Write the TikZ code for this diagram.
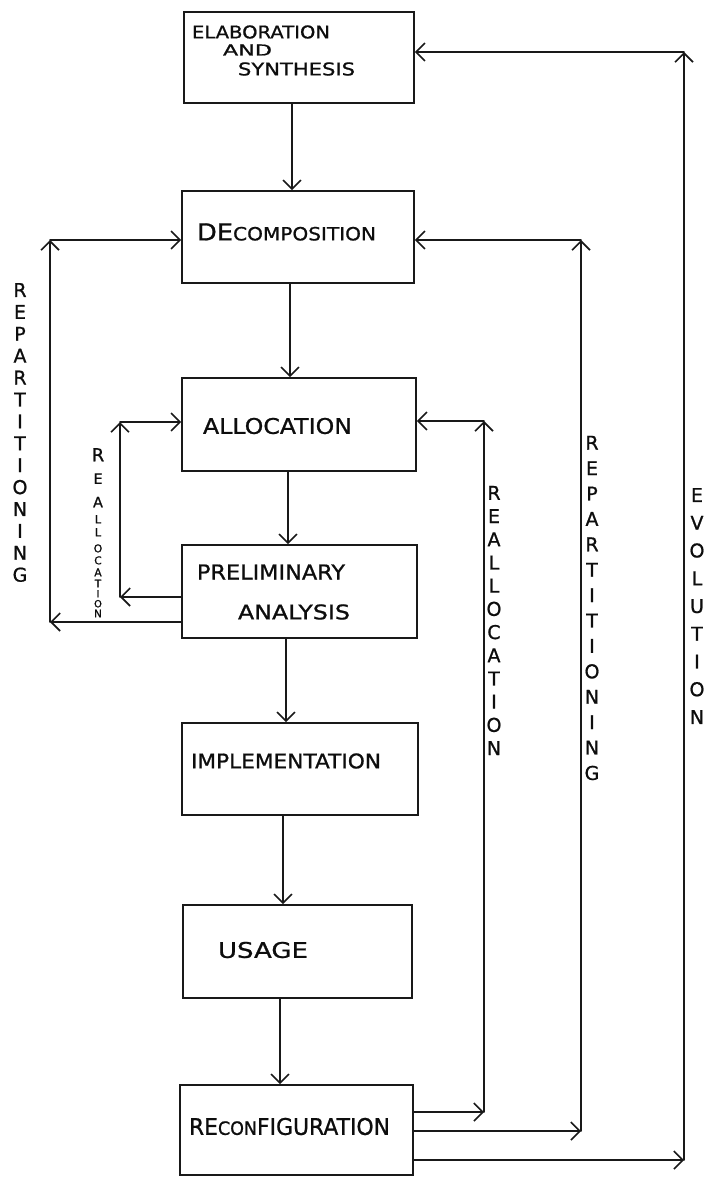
\documentclass[tikz,border=0pt]{standalone}
\usepackage{fontspec}
\setmainfont{DejaVu Sans}[FakeBold=0.9]
\usepackage{graphicx}
\usetikzlibrary{arrows.meta}
\tikzset{
  ink/.style={draw=gray!20!black, line width=1.6pt},
  stage/.style={ink, rectangle, inner sep=0pt},
  arr/.style={ink, line cap=round, -{Straight Barb[length=9pt,width=18pt,line width=1.6pt]}},
  lbl/.style={inner sep=0pt, text=gray!10!black, anchor=center},
  vlbl/.style={inner sep=0pt, text=gray!10!black, align=center},
}
\newcommand{\fitto}[3]{\resizebox{#1pt}{#2pt}{#3}}
\newcommand{\ltr}[2]{\scalebox{#1}{#2}}
\begin{document}
\begin{tikzpicture}[x=1pt,y=-1pt]
\useasboundingbox (0,0) rectangle (705,1177);
\fill[white] (0,0) rectangle (705,1177);

% stages
\node[stage, minimum width=230pt, minimum height=91pt] (elab)   at (299,57.5)   {};
\node[stage, minimum width=232pt, minimum height=92pt] (decomp) at (298,237)    {};
\node[stage, minimum width=234pt, minimum height=93pt] (alloc)  at (299,424.5)  {};
\node[stage, minimum width=235pt, minimum height=93pt] (prelim) at (299.5,591.5){};
\node[stage, minimum width=236pt, minimum height=92pt] (impl)   at (300,769)    {};
\node[stage, minimum width=229pt, minimum height=93pt] (usage)  at (297.5,951.5){};
\node[stage, minimum width=233pt, minimum height=90pt] (reconf) at (296.5,1130) {};

% stage texts
\node[lbl] (t-elab1) at (261,32)    {\fitto{138}{13}{ELABORATION}};
\node[lbl] (t-elab2) at (247.5,50)  {\fitto{49}{11}{AND}};
\node[lbl] (t-elab3) at (296.5,69)  {\fitto{117}{13}{SYNTHESIS}};
\node[lbl] (t-decomp) at (286.5,232) {\fitto{179}{17}{DE\scalebox{0.78}{COMPOSITION}}};
\node[lbl] (t-alloc) at (277.5,426) {\fitto{149}{16}{ALLOCATION}};
\node[lbl] (t-prel1) at (271,572)   {\fitto{148}{15}{PRELIMINARY}};
\node[lbl] (t-prel2) at (294,612)   {\fitto{112}{15}{ANALYSIS}};
\node[lbl] (t-impl) at (286,761)    {\fitto{190}{15}{IMPLEMENTATION}};
\node[lbl] (t-usage) at (263,950)   {\fitto{90}{16}{USAGE}};
\node[lbl] (t-reconf) at (289.5,1126.5) {\fitto{201}{17}{RE\scalebox{0.8}{CON}FIGURATION}};

% main flow
\draw[arr] ([xshift=-7pt]elab.south)    -- ([xshift=-7pt]elab.south |- decomp.north);
\draw[arr] ([xshift=-8pt]decomp.south)  -- ([xshift=-8pt]decomp.south |- alloc.north);
\draw[arr] ([xshift=-11pt]alloc.south)  -- ([xshift=-11pt]alloc.south |- prelim.north);
\draw[arr] ([xshift=-13.5pt]prelim.south) -- ([xshift=-13.5pt]prelim.south |- impl.north);
\draw[arr] ([xshift=-17pt]impl.south)   -- ([xshift=-17pt]impl.south |- usage.north);
\draw[arr] ([xshift=-17.5pt]usage.south)  -- ([xshift=-17.5pt]usage.south |- reconf.north);

% left repartitioning loop
\coordinate (lr1) at (50,622);
\coordinate (lr2) at (50,240);
\draw[arr] (prelim.west |- lr1) -- (lr1);
\draw[arr] (lr1) -- (lr2);
\draw[arr] (lr2) -- (decomp.west |- lr2);

% inner reallocation loop
\coordinate (ir1) at (120,597);
\coordinate (ir2) at (120,422);
\draw[arr] (prelim.west |- ir1) -- (ir1);
\draw[arr] (ir1) -- (ir2);
\draw[arr] (ir2) -- (alloc.west |- ir2);

% right reallocation loop
\coordinate (rr1) at (484,1112);
\coordinate (rr2) at (484,421);
\draw[arr] (reconf.east |- rr1) -- (rr1);
\draw[arr] (rr1) -- (rr2);
\draw[arr] (rr2) -- (alloc.east |- rr2);

% right repartitioning loop
\coordinate (rp1) at (581,1131);
\coordinate (rp2) at (581,240);
\draw[arr] (reconf.east |- rp1) -- (rp1);
\draw[arr] (rp1) -- (rp2);
\draw[arr] (rp2) -- (decomp.east |- rp2);

% evolution loop
\coordinate (ev1) at (684,1160);
\coordinate (ev2) at (684,52);
\draw[arr] (reconf.east |- ev1) -- (ev1);
\draw[arr] (ev1) -- (ev2);
\draw[arr] (ev2) -- (elab.east |- ev2);

% loop labels
\node[vlbl, font=\fontsize{19}{21.9}\selectfont] (l-rep-left) at (20,432.5)
  {R\\E\\P\\A\\R\\T\\I\\T\\I\\O\\N\\I\\N\\G};
\node[vlbl, anchor=north, font=\fontsize{18}{10}\selectfont] (l-real-in) at (98,448)
  {R\\[11pt]\ltr{0.8}{E}\\[12pt]\ltr{0.8}{A}\\[6pt]\ltr{0.62}{L}\\[3pt]\ltr{0.62}{L}\\[6pt]%
   \ltr{0.6}{O}\\[2pt]\ltr{0.6}{C}\\[2pt]\ltr{0.6}{A}\\[1pt]\ltr{0.58}{T}\\[0pt]%
   \ltr{0.55}{I}\\[0pt]\ltr{0.55}{O}\\[0pt]\ltr{0.58}{N}};
\node[vlbl, font=\fontsize{19}{23.2}\selectfont] (l-real-r) at (494,620.5)
  {R\\E\\A\\L\\L\\O\\C\\A\\T\\I\\O\\N};
\node[vlbl, font=\fontsize{19}{25.4}\selectfont] (l-rep-r) at (592,608)
  {R\\E\\P\\A\\R\\T\\I\\T\\I\\O\\N\\I\\N\\G};
\node[vlbl, font=\fontsize{19}{27.75}\selectfont] (l-evo) at (697,606)
  {E\\V\\O\\L\\U\\T\\I\\O\\N};
\end{tikzpicture}
\end{document}
